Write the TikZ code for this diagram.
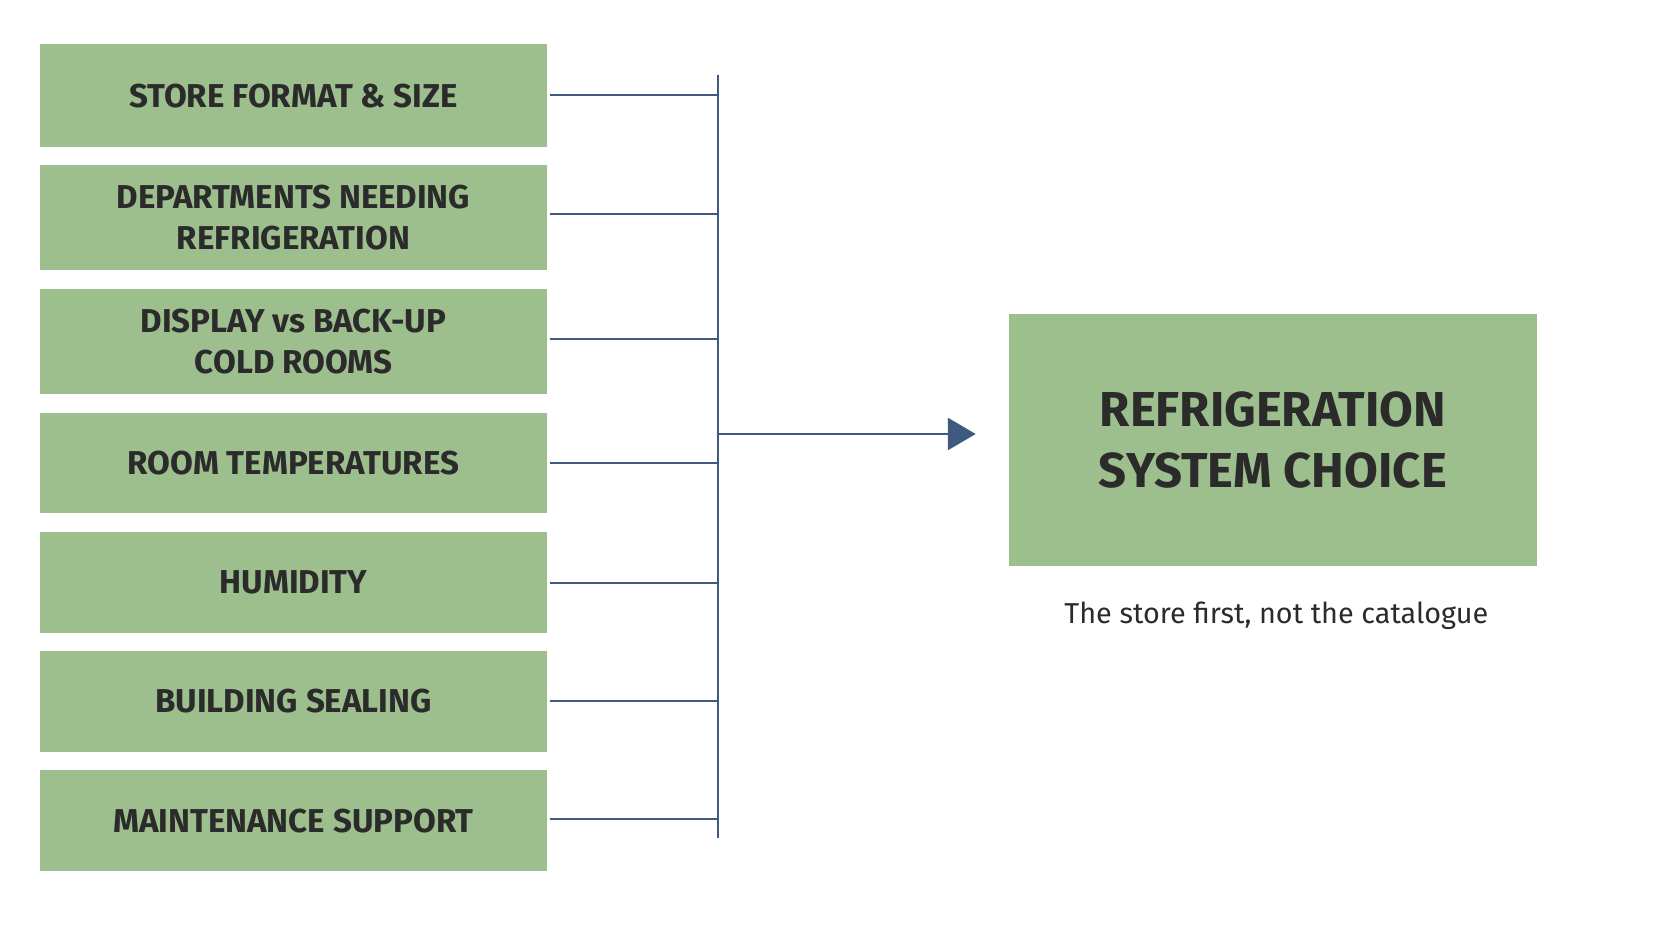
\documentclass[tikz,border=0pt]{standalone}
\usepackage{fontspec}
\setmainfont{Fira Sans}
\usetikzlibrary{arrows.meta}
\definecolor{boxg}{HTML}{9DBF8E}
\definecolor{lineb}{HTML}{3E5A7E}
\definecolor{txt}{HTML}{2B2B2B}
\begin{document}
\begin{tikzpicture}[x=1pt,y=-1pt,
  fbox/.style={fill=boxg,minimum width=476pt,anchor=north west,inner sep=0pt,align=center,text=txt,font=\fontsize{31}{38}\selectfont\bfseries},
  conn/.style={draw=lineb,line width=1.8pt}]
\useasboundingbox[fill=white] (0,0) rectangle (1568,882);
\node[fbox,minimum height=97pt] (b1) at (37,41) {STORE FORMAT \& SIZE};
\node[fbox,minimum height=98pt] (b2) at (37,155) {DEPARTMENTS NEEDING\\REFRIGERATION};
\node[fbox,minimum height=98pt] (b3) at (37,271) {DISPLAY vs BACK-UP\\COLD ROOMS};
\node[fbox,minimum height=94pt] (b4) at (37,387) {ROOM TEMPERATURES};
\node[fbox,minimum height=94pt] (b5) at (37,499) {HUMIDITY};
\node[fbox,minimum height=95pt] (b6) at (37,610) {BUILDING SEALING};
\node[fbox,minimum height=95pt] (b7) at (37,722) {MAINTENANCE SUPPORT};
\coordinate (top) at (673,70);
\coordinate (bot) at (673,786);
\draw[conn] (top) -- (bot);
\foreach \i/\y in {b1/89,b2/201,b3/318,b4/434,b5/547,b6/657,b7/768}{
  \coordinate (e\i) at (673,\y);
  \draw[conn] (516,\y) -- (e\i);
}
\node[fill=boxg,minimum width=495pt,minimum height=237pt,anchor=north west,inner sep=0pt,align=center,text=txt,font=\fontsize{46}{58}\selectfont\bfseries] (r) at (946,294) {REFRIGERATION\\SYSTEM CHOICE};
\coordinate (jn) at (673,407);
\draw[conn,-{Triangle[length=26pt,width=30pt]}] (jn) -- (915,407);
\node[text=txt,font=\fontsize{27}{32}\selectfont] (cap) at (1197,577) {The store first, not the catalogue};
\end{tikzpicture}
\end{document}
